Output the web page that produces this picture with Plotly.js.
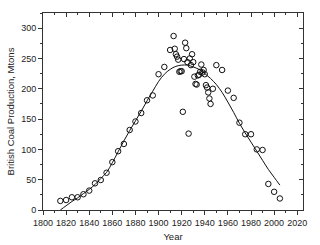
<!DOCTYPE html>
<html>
<head>
<meta charset="utf-8">
<script src="https://cdn.plot.ly/plotly-3.0.1.min.js"></script>
<style>html,body{margin:0;padding:0;background:#fff;}#chart{width:320px;height:245px;}</style>
</head>
<body>
<div id="chart"></div>
<script>
// Observed production (Mtons)
const obsYears = [1815,1820,1825,1830,1835,1840,1845,1850,1855,1860,1865,1870,1875,1880,1885,1890,1895,1900,1905,1910,
  1913,1914,1915,1916,1917,1918,1919,1920,1921,1922,1923,1924,1925,1926,1927,1928,1929,1930,1931,1932,1933,1934,1935,1936,1937,1938,1939,1940,1941,1942,1943,1944,1945,1947,
  1950,1955,1960,1965,1970,1975,1980,1985,1990,1995,2000,2005];
const obsValues = [15,16.5,21,21,26,32,44,49.5,61.5,79,97,109,132,146,160,181,189,224,236,264,
  287,266,257,253,248,228,229,229,162,249,276,267,244,126,250,239,257,244,220,208,207,222,223,228,240,227,231,224,206,202,194,184,175,200,
  239,231,197,185,144,125,125,100,99,43,30,19];
// Fitted curve
const fitYears = [1815,1820,1825,1830,1835,1840,1845,1850,1855,1860,1865,1870,1875,1880,1885,1890,1895,1900,1905,1910,1915,1920,1925,1930,1935,1940,1945,1950,1955,1960,1965,1970,1975,1980,1985,1990,1995,2000,2005];
const fitValues = [0,7,14,20,27,34,42,52,62,78,96,114,131,147,163,180,196,212,224,232,237,239,239,236,232,225,217,207,194,178,161,143,127,112,97,82,67,54,41];

const xTitle = 'Year';
const yTitle = 'British Coal Production, Mtons';
const xRange = [1800, 2025];
const yRange = [0, 325];

const axisFont = {family: 'Liberation Sans, Arial, sans-serif', size: 9, color: '#222'};
const titleFont = {family: 'Liberation Sans, Arial, sans-serif', size: 9.5, color: '#222'};

const traces = [
  {x: fitYears, y: fitValues, type: 'scatter', mode: 'lines', line: {color: '#111', width: 1, shape: 'spline'}, hoverinfo: 'skip', showlegend: false},
  {x: obsYears, y: obsValues, type: 'scatter', mode: 'markers',
   marker: {symbol: 'circle-open', size: 5.5, color: '#111', line: {width: 1, color: '#111'}}, showlegend: false},
  {x: obsYears, y: obsValues, xaxis: 'x2', yaxis: 'y2', type: 'scatter', mode: 'markers', opacity: 0, hoverinfo: 'skip', showlegend: false}
];

const layout = {
  width: 320, height: 245,
  margin: {l: 43, r: 17, t: 13, b: 35},
  paper_bgcolor: '#fff', plot_bgcolor: '#fff',
  showlegend: false,
  xaxis: {
    range: xRange, dtick: 20, tick0: 1800, ticks: 'outside', ticklen: 4, tickwidth: 1, tickcolor: '#333',
    minor: {dtick: 10, ticks: 'outside', ticklen: 2, tickcolor: '#333'},
    showline: true, linecolor: '#333', linewidth: 1, showgrid: false, zeroline: false,
    tickfont: axisFont, title: {text: xTitle, font: titleFont, standoff: 6}
  },
  yaxis: {
    range: yRange, dtick: 50, tick0: 0, ticks: 'outside', ticklen: 4, tickwidth: 1, tickcolor: '#333',
    minor: {dtick: 25, ticks: 'outside', ticklen: 2, tickcolor: '#333'},
    showline: true, linecolor: '#333', linewidth: 1, showgrid: false, zeroline: false,
    tickfont: axisFont, title: {text: yTitle, font: titleFont, standoff: 4}
  },
  xaxis2: {
    overlaying: 'x', side: 'top', range: xRange, dtick: 20, tick0: 1800, ticks: 'inside', ticklen: 4, tickcolor: '#333',
    minor: {dtick: 10, ticks: 'inside', ticklen: 2, tickcolor: '#333'},
    showticklabels: false, showline: true, linecolor: '#333', linewidth: 1, showgrid: false, zeroline: false
  },
  yaxis2: {
    overlaying: 'y', side: 'right', range: yRange, dtick: 50, tick0: 0, ticks: 'inside', ticklen: 4, tickcolor: '#333',
    minor: {dtick: 25, ticks: 'inside', ticklen: 2, tickcolor: '#333'},
    showticklabels: false, showline: true, linecolor: '#333', linewidth: 1, showgrid: false, zeroline: false
  }
};

Plotly.newPlot('chart', traces, layout, {staticPlot: true, displayModeBar: false});
</script>
</body>
</html>
